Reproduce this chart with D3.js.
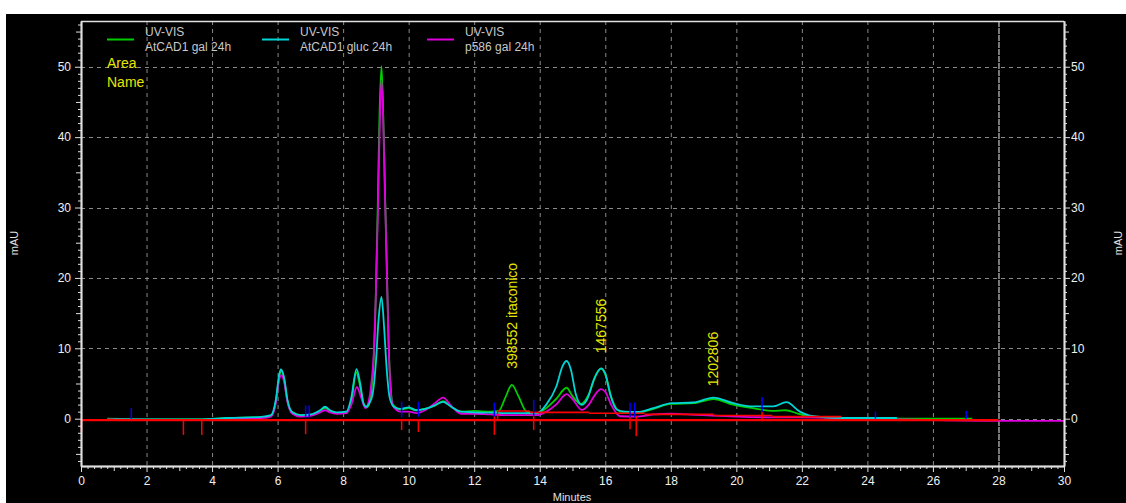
<!DOCTYPE html>
<html>
<head>
<meta charset="utf-8">
<script src="https://cdnjs.cloudflare.com/ajax/libs/d3/7.8.5/d3.min.js"></script>
<style>
  html, body { margin: 0; padding: 0; background: #fff; overflow: hidden; }
  svg { display: block; }
  text { font-family: "Liberation Sans", Arial, sans-serif; }
</style>
</head>
<body>
<div id="chart"></div>
<script>
// chromatogram traces, [minutes, mAU]
const galAtCAD1 = [
  [0.8, 0.0], [2.0, -0.1], [3.6, -0.1], [4.5, 0.1], [5.5, 0.2], [5.8, 0.4], [5.95, 2.5], [6.05, 6.0], [6.12, 6.8],
  [6.2, 5.5], [6.3, 2.5], [6.45, 0.9], [6.7, 0.5], [7.0, 0.5], [7.3, 1.1], [7.45, 1.5], [7.6, 1.1], [7.8, 0.8],
  [8.1, 0.9], [8.25, 2.5], [8.4, 6.6], [8.5, 5.0], [8.62, 2.2], [8.72, 1.6], [8.8, 2.2], [8.86, 4], [8.93, 8],
  [9.0, 18], [9.06, 31], [9.11, 43], [9.17, 50.1], [9.22, 44], [9.27, 34], [9.33, 22], [9.39, 10.5], [9.45, 4.5],
  [9.52, 2.0], [9.75, 1.3], [10.0, 1.5], [10.2, 1.2], [10.5, 1.4], [10.8, 1.9], [11.05, 2.5], [11.3, 1.7],
  [11.6, 1.0], [12.0, 1.1], [12.5, 1.0], [12.75, 1.1], [12.95, 3.0], [13.15, 4.8], [13.35, 3.2], [13.6, 1.0],
  [13.9, 0.8], [14.2, 1.5], [14.5, 2.8], [14.82, 4.4], [15.0, 3.2], [15.25, 2.1], [15.5, 3.5], [15.72, 6.3],
  [15.87, 7.1], [16.0, 6.3], [16.2, 2.8], [16.45, 1.0], [16.9, 0.8], [17.4, 1.3], [18.0, 2.1], [18.7, 2.2],
  [19.3, 2.8], [19.9, 2.0], [20.5, 1.5], [21.1, 1.1], [21.5, 1.2], [21.9, 0.7], [22.3, 0.3], [23.2, 0.1],
  [25.0, 0.0], [27.2, 0.0]
];
const glucAtCAD1 = [
  [1.0, -0.1], [3.6, -0.1], [4.5, 0.1], [5.5, 0.25], [5.8, 0.5], [5.95, 2.8], [6.05, 6.3], [6.1, 7.0], [6.2, 5.8],
  [6.3, 2.7], [6.45, 0.9], [6.7, 0.5], [7.0, 0.6], [7.3, 1.2], [7.45, 1.7], [7.6, 1.2], [7.8, 0.9], [8.1, 1.0],
  [8.25, 3.0], [8.41, 7.05], [8.52, 5.0], [8.62, 2.2], [8.7, 1.7], [8.8, 2.2], [8.9, 3.5], [9.0, 8], [9.08, 14],
  [9.17, 17.3], [9.25, 13], [9.33, 7], [9.42, 3], [9.55, 1.7], [9.75, 1.4], [10.0, 1.6], [10.25, 1.2],
  [10.5, 1.4], [10.8, 1.9], [11.05, 2.4], [11.3, 1.7], [11.6, 1.0], [12.0, 0.9], [12.5, 0.85], [13.0, 0.8],
  [13.5, 0.8], [13.9, 0.75], [14.2, 2.0], [14.5, 4.5], [14.7, 7.5], [14.82, 8.2], [14.95, 7.0], [15.1, 3.5],
  [15.28, 1.95], [15.45, 2.8], [15.65, 5.5], [15.87, 7.15], [16.0, 6.4], [16.15, 3.5], [16.35, 1.3], [16.6, 1.0],
  [17.0, 0.95], [17.47, 1.5], [18.03, 2.2], [18.68, 2.3], [19.3, 3.0], [19.91, 2.2], [20.52, 1.75],
  [21.13, 1.75], [21.53, 2.35], [21.94, 1.0], [22.24, 0.45], [23.16, 0.1], [24.9, 0.1]
];
const galP586 = [
  [0.8, -0.1], [3.6, -0.2], [4.5, 0.0], [5.5, 0.1], [5.8, 0.3], [5.95, 2.3], [6.05, 5.6], [6.12, 6.2], [6.2, 5.2],
  [6.3, 2.4], [6.45, 0.7], [6.7, 0.3], [7.0, 0.4], [7.3, 0.9], [7.45, 1.2], [7.6, 0.9], [7.8, 0.7], [8.1, 0.8],
  [8.25, 2.0], [8.42, 4.5], [8.55, 3.0], [8.68, 1.5], [8.78, 2.5], [8.86, 5], [8.93, 9], [9.0, 18], [9.06, 29],
  [9.11, 40], [9.17, 48.1], [9.22, 43], [9.27, 33], [9.33, 22], [9.39, 10], [9.45, 4.2], [9.52, 1.8],
  [9.75, 1.0], [10.0, 1.0], [10.25, 0.8], [10.5, 1.2], [10.8, 2.2], [11.05, 3.0], [11.3, 1.8], [11.6, 0.7],
  [12.0, 0.7], [12.5, 0.6], [13.0, 0.5], [13.5, 0.5], [13.9, 0.5], [14.2, 1.0], [14.5, 2.0], [14.82, 3.5],
  [15.0, 2.8], [15.28, 1.25], [15.5, 2.0], [15.7, 3.5], [15.87, 4.2], [16.0, 3.8], [16.2, 1.8], [16.45, 0.35],
  [17.0, 0.3], [17.5, 0.6], [18.0, 0.7], [18.5, 0.6], [19.0, 0.5], [19.5, 0.4], [20.0, 0.3], [21.0, 0.2],
  [22.0, 0.2], [23.0, 0.1], [28.0, -0.3], [30.0, -0.3]
];

// integration baselines [t0, v0, t1, v1]
const baselines = [
  [0, -0.2, 28, -0.2], [12.7, 1.1, 13.7, 1.1], [13.7, 0.9, 15.5, 0.9], [15.5, 0.77, 17.2, 0.77],
  [17.2, 0.62, 19.3, 0.62], [19.3, 0.45, 21.1, 0.45], [21.1, 0.3, 23.2, 0.3]
];
// peak start/end marks [t, v0, v1]
const blueMarks = [
  [1.52, 0, 1.5], [6.84, 0.1, 1.9], [6.95, 0.1, 1.9], [9.77, 0.2, 2.4], [10.28, 0.3, 2.4], [12.6, 0.3, 2.3],
  [13.8, 0.3, 2.7], [16.74, 0.2, 2.3], [16.88, 0.2, 2.3], [20.77, 1.0, 3.1], [24.23, 0, 1.0], [27.0, 0, 1.1]
];
const redMarks = [
  [0, 0, -1.8], [3.11, -0.3, -2.3], [3.67, -0.3, -2.3], [6.84, -0.3, -2.2], [9.77, -0.2, -1.6], [10.28, -0.2, -1.9],
  [12.6, 0.5, -2.3], [12.7, 1.1, -0.3], [13.8, 0.5, -1.6], [16.74, 0.4, -1.5], [16.93, 0.4, -2.5], [20.77, 1.0, -0.2]
];

const series = ["AtCAD1 gal 24h", "AtCAD1 gluc 24h", "p586 gal 24h"];
const seriesColors = ["#00cc00", "#00d4d4", "#dd00dd"];
const peakLabels = [
  { t: 13.15, v: 7.1, text: "398552  itaconico" },
  { t: 15.87, v: 9.3, text: "1467556" },
  { t: 19.3, v: 4.6, text: "1202806" }
];
const xTicks = d3.range(0, 31, 2);
const yTicks = d3.range(0, 51, 10);
const stopTime = 28;

const W = 1126, H = 503;
const svg = d3.select("#chart").append("svg").attr("width", W).attr("height", H);

svg.append("rect").attr("x", 6).attr("y", 14).attr("width", W - 6).attr("height", H - 14).attr("fill", "#000");

const x = d3.scaleLinear().domain([0, 30]).range([81, 1064]);
const y = d3.scaleLinear().domain([-6.72, 56.5]).range([466, 21]);

// grid
const grid = svg.append("g").attr("stroke", "#8a8a8a").attr("stroke-width", 1).attr("stroke-dasharray", "4,4");
grid.selectAll("line.v").data(xTicks.filter(d => d > 0 && d < 30 && d !== stopTime)).enter().append("line")
  .attr("x1", d => x(d) + 0.5).attr("x2", d => x(d) + 0.5).attr("y1", 21).attr("y2", 466);
grid.selectAll("line.h").data(yTicks).enter().append("line")
  .attr("x1", 81).attr("x2", 1064).attr("y1", d => Math.round(y(d)) + 0.5).attr("y2", d => Math.round(y(d)) + 0.5);

svg.append("line").attr("x1", x(stopTime) + 0.5).attr("x2", x(stopTime) + 0.5).attr("y1", 21).attr("y2", 466)
  .attr("stroke", "#a0a0a0").attr("stroke-width", 1.5).attr("stroke-dasharray", "6,1");

// traces
const line = d3.line().x(d => x(d[0])).y(d => y(d[1])).curve(d3.curveMonotoneX);
[galAtCAD1, galP586, glucAtCAD1].forEach((data, i) => {
  const c = [seriesColors[0], seriesColors[2], seriesColors[1]][i];
  svg.append("path").datum(data).attr("d", line).attr("fill", "none").attr("stroke", c).attr("stroke-width", 1.8);
});

// baselines and marks
svg.selectAll("line.base").data(baselines).enter().append("line")
  .attr("x1", d => x(d[0])).attr("y1", d => y(d[1])).attr("x2", d => x(d[2])).attr("y2", d => y(d[3]))
  .attr("stroke", "#ff0000").attr("stroke-width", (d, i) => i === 0 ? 2.2 : 1.6);
svg.selectAll("line.rm").data(redMarks).enter().append("line")
  .attr("x1", d => x(d[0]) + 0.5).attr("x2", d => x(d[0]) + 0.5).attr("y1", d => y(d[1])).attr("y2", d => y(d[2]))
  .attr("stroke", "#ff0000").attr("stroke-width", 1.5);
svg.selectAll("line.bm").data(blueMarks).enter().append("line")
  .attr("x1", d => x(d[0]) + 0.5).attr("x2", d => x(d[0]) + 0.5).attr("y1", d => y(d[1])).attr("y2", d => y(d[2]))
  .attr("stroke", "#0000ff").attr("stroke-width", 1.5);

// frame and axes
const axisColor = "#e0e0e0";
svg.append("line").attr("x1", 81).attr("x2", 1064).attr("y1", 21.5).attr("y2", 21.5).attr("stroke", axisColor).attr("stroke-width", 1.5);

function styleAxis(g) {
  g.select(".domain").attr("stroke", axisColor).attr("stroke-width", 1.5);
  g.selectAll(".tick line").attr("stroke", axisColor);
  g.selectAll(".tick text").attr("fill", "#f0f0f0").style("font-size", "12px")
    .style("font-family", "'Liberation Sans', Arial, sans-serif");
}

const yMinor = d3.range(-6, 57, 1).filter(d => d % 5 !== 0);
const yMid = d3.range(-5, 57, 10);
[[d3.axisLeft, 81], [d3.axisRight, 1064]].forEach(([ax, px]) => {
  svg.append("g").attr("transform", `translate(${px},0)`)
    .call(ax(y).tickValues(yMinor).tickSize(3).tickFormat("").tickSizeOuter(0)).call(styleAxis);
  svg.append("g").attr("transform", `translate(${px},0)`)
    .call(ax(y).tickValues(yMid).tickSize(5).tickFormat("").tickSizeOuter(0)).call(styleAxis);
  svg.append("g").attr("transform", `translate(${px},0)`)
    .call(ax(y).tickValues(yTicks).tickSize(6).tickPadding(ax === d3.axisLeft ? 4 : 1).tickSizeOuter(0)).call(styleAxis);
});

svg.append("g").attr("transform", "translate(0,466)")
  .call(d3.axisBottom(x).tickValues(d3.range(0, 30.01, 0.2).filter(d => Math.abs(d - Math.round(d)) > 0.01))
    .tickSize(3).tickFormat("").tickSizeOuter(0)).call(styleAxis);
svg.append("g").attr("transform", "translate(0,466)")
  .call(d3.axisBottom(x).tickValues(d3.range(1, 30, 2)).tickSize(5).tickFormat("").tickSizeOuter(0)).call(styleAxis);
svg.append("g").attr("transform", "translate(0,466)")
  .call(d3.axisBottom(x).tickValues(xTicks).tickSize(6).tickPadding(4).tickSizeOuter(0)).call(styleAxis);

// axis titles
svg.append("text").attr("transform", "translate(18,243) rotate(-90)").attr("text-anchor", "middle")
  .attr("fill", "#e0e0e0").style("font-size", "11px").text("mAU");
svg.append("text").attr("transform", "translate(1122,243) rotate(-90)").attr("text-anchor", "middle")
  .attr("fill", "#e0e0e0").style("font-size", "11px").text("mAU");
svg.append("text").attr("x", 572).attr("y", 501).attr("text-anchor", "middle")
  .attr("fill", "#e0e0e0").style("font-size", "11px").text("Minutes");

// legend
const legendX = [107, 262, 427];
series.forEach((s, i) => {
  svg.append("line").attr("x1", legendX[i]).attr("x2", legendX[i] + 27).attr("y1", 39.5).attr("y2", 39.5)
    .attr("stroke", seriesColors[i]).attr("stroke-width", 2);
  svg.append("text").attr("x", legendX[i] + 38).attr("y", 36).attr("fill", "#c8c8c8").style("font-size", "12px").text("UV-VIS");
  svg.append("text").attr("x", legendX[i] + 38).attr("y", 51).attr("fill", "#c8c8c8").style("font-size", "12px").text(s);
});
svg.append("text").attr("x", 107).attr("y", 68).attr("fill", "#e6e600").style("font-size", "14px").text("Area");
svg.append("text").attr("x", 107).attr("y", 87).attr("fill", "#e6e600").style("font-size", "14px").text("Name");

// peak labels
svg.selectAll("text.peak").data(peakLabels).enter().append("text")
  .attr("transform", d => `translate(${x(d.t) + 5},${y(d.v)}) rotate(-90)`)
  .attr("fill", "#e6e600").style("font-size", "14px").text(d => d.text);
</script>
</body>
</html>
